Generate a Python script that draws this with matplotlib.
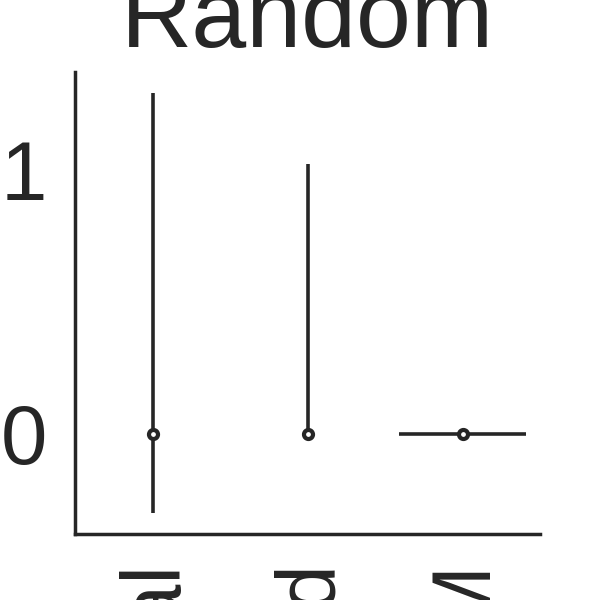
import matplotlib
matplotlib.use("Agg")
import matplotlib.pyplot as plt

# values
labels = ["Empirical", "Learned", "HMM"]
centers = [0.0, 0.0, 0.0]
y_low = [0.30, 0.02, 0.0]     # distance below the point
y_high = [1.29, 1.02, 0.0]    # distance above the point
x_spread = [0.0, 0.0, 0.41]   # horizontal half width

dark = "#262626"
plt.rcParams["font.family"] = ["Liberation Sans", "DejaVu Sans"]

fig, ax = plt.subplots(figsize=(6, 6), dpi=100)

for i in range(len(labels)):
    ax.errorbar(i, centers[i],
                yerr=[[y_low[i]], [y_high[i]]],
                xerr=[[x_spread[i]], [x_spread[i]]],
                fmt="o", color=dark, ecolor=dark, elinewidth=2.6,
                markersize=6.5, markerfacecolor="white",
                markeredgecolor=dark, markeredgewidth=3, capsize=0)

ax.set_xlim(-0.5, 2.5)
ax.set_xticks(range(len(labels)))
ax.set_xticklabels(labels, rotation=90)
ax.set_yticks([0, 1])
ax.tick_params(axis="both", length=0, labelsize=60, colors=dark)
ax.tick_params(axis="y", pad=20)
ax.tick_params(axis="x", pad=17)

for side in ["top", "right"]:
    ax.spines[side].set_visible(False)
for side in ["left", "bottom"]:
    ax.spines[side].set_linewidth(2.5)
    ax.spines[side].set_color(dark)

ax.set_title("Random", fontsize=71, color=dark, pad=18)

fig.subplots_adjust(left=0.125, right=0.9, bottom=0.11, top=0.88)
fig.savefig("out.png", dpi=100)
